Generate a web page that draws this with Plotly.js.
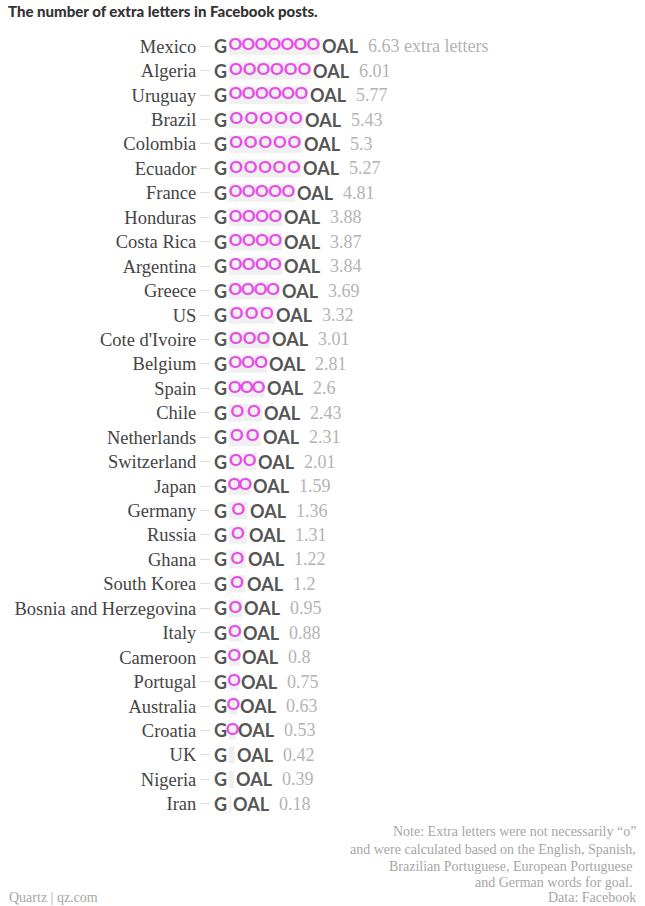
<!DOCTYPE html>
<html>
<head>
<meta charset="utf-8">
<script src="https://cdn.plot.ly/plotly-3.0.1.min.js"></script>
<style>
html,body{margin:0;padding:0;background:#fff;}
#chart{width:645px;height:906px;}
</style>
</head>
<body>
<div id="chart"></div>
<script>
const countries = ["Mexico","Algeria","Uruguay","Brazil","Colombia","Ecuador","France","Honduras","Costa Rica","Argentina","Greece","US","Cote d'Ivoire","Belgium","Spain","Chile","Netherlands","Switzerland","Japan","Germany","Russia","Ghana","South Korea","Bosnia and Herzegovina","Italy","Cameroon","Portugal","Australia","Croatia","UK","Nigeria","Iran"];
const values = [6.63,6.01,5.77,5.43,5.3,5.27,4.81,3.88,3.87,3.84,3.69,3.32,3.01,2.81,2.6,2.43,2.31,2.01,1.59,1.36,1.31,1.22,1.2,0.95,0.88,0.8,0.75,0.63,0.53,0.42,0.39,0.18];
const oCounts = [7,6,6,5,5,5,5,4,4,4,4,3,3,3,3,2,2,2,2,1,1,1,1,1,1,1,1,1,1,0,0,0];
const valueLabels = ["6.63 extra letters","6.01","5.77","5.43","5.3","5.27","4.81","3.88","3.87","3.84","3.69","3.32","3.01","2.81","2.6","2.43","2.31","2.01","1.59","1.36","1.31","1.22","1.2","0.95","0.88","0.8","0.75","0.63","0.53","0.42","0.39","0.18"];
const noteLines = ["Note: Extra letters were not necessarily “o”","and were calculated based on the English, Spanish,","Brazilian Portuguese, European Portuguese ","and German words for goal. ","Data: Facebook"];

const SANS = "Lato, Roboto, sans-serif";
const SERIF = "'Liberation Serif', 'DejaVu Serif', serif";
const DARK = "#555555";
const PINK = "#e84ce8";
const GREY = "#b3b3b3";

// O glyph positions spread evenly across each bar
const oX = [], oY = [];
countries.forEach((c, i) => {
  const n = oCounts[i];
  for (let k = 0; k < n; k++) {
    oX.push((k + 0.5) * values[i] / n);
    oY.push(c);
  }
});

const traces = [
  {
    type: "bar", orientation: "h",
    x: values, y: countries,
    marker: {color: "#f0f0f0"},
    hoverinfo: "skip"
  },
  {
    type: "scatter", mode: "text",
    x: oX, y: oY,
    text: oX.map(() => "O"),
    textposition: "middle center",
    textfont: {family: SANS, size: 17, color: PINK, weight: 700},
    hoverinfo: "skip"
  }
];

const annotations = [];
countries.forEach((c, i) => {
  annotations.push({
    x: 0, y: c, xref: "x", yref: "y", text: "G", showarrow: false,
    xanchor: "right", yanchor: "middle", xshift: 0,
    font: {family: SANS, size: 18, color: DARK, weight: 700}
  });
  annotations.push({
    x: values[i], y: c, xref: "x", yref: "y", text: "OAL", showarrow: false,
    xanchor: "left", yanchor: "middle", xshift: 0,
    font: {family: SANS, size: 18, color: DARK, weight: 700}
  });
  annotations.push({
    x: values[i], y: c, xref: "x", yref: "y", text: valueLabels[i], showarrow: false,
    xanchor: "left", yanchor: "middle", xshift: 46,
    font: {family: SERIF, size: 18, color: GREY}
  });
});

// footer (plot area: left 211, width 429, top 34, height 782)
const PL = 211, PW = 429, PT = 34, PH = 782;
const noteY = [832, 849, 866, 882, 898];
noteLines.forEach((t, k) => {
  annotations.push({
    xref: "paper", yref: "paper", x: (638 - PL) / PW, y: (PT + PH - noteY[k]) / PH,
    xanchor: "right", yanchor: "middle", showarrow: false,
    text: t,
    font: {family: SERIF, size: 14, color: "#a6a6a6"}
  });
});
annotations.push({
  xref: "paper", yref: "paper", x: (7 - PL) / PW, y: (PT + PH - 898) / PH,
  xanchor: "left", yanchor: "middle", showarrow: false,
  text: "Quartz | qz.com",
  font: {family: SERIF, size: 14, color: "#a6a6a6"}
});

const layout = {
  width: 645, height: 906,
  margin: {l: PL, r: 645 - PL - PW, t: PT, b: 906 - PT - PH},
  paper_bgcolor: "#ffffff", plot_bgcolor: "#ffffff",
  showlegend: false,
  bargap: 0.28,
  title: {
    text: "The number of extra letters in Facebook posts.",
    x: 8 / 645, xanchor: "left", xref: "container",
    y: 1 - 12 / 906, yanchor: "middle", yref: "container",
    font: {family: SANS, size: 15, color: "#333333", weight: 900}
  },
  xaxis: {
    range: [-1.31, 30], showgrid: false, zeroline: false,
    showticklabels: false, ticks: "", showline: false, fixedrange: true
  },
  yaxis: {
    type: "category", categoryorder: "array", categoryarray: countries,
    range: [countries.length - 0.5, -0.5],
    showgrid: false, zeroline: false, showline: false,
    ticks: "outside", ticklen: 10, tickwidth: 1, tickcolor: "#dddddd",
    tickfont: {family: SERIF, size: 18.5, color: "#444444"},
    fixedrange: true
  },
  annotations: annotations
};

Plotly.newPlot("chart", traces, layout, {displayModeBar: false, staticPlot: true});
</script>
</body>
</html>
